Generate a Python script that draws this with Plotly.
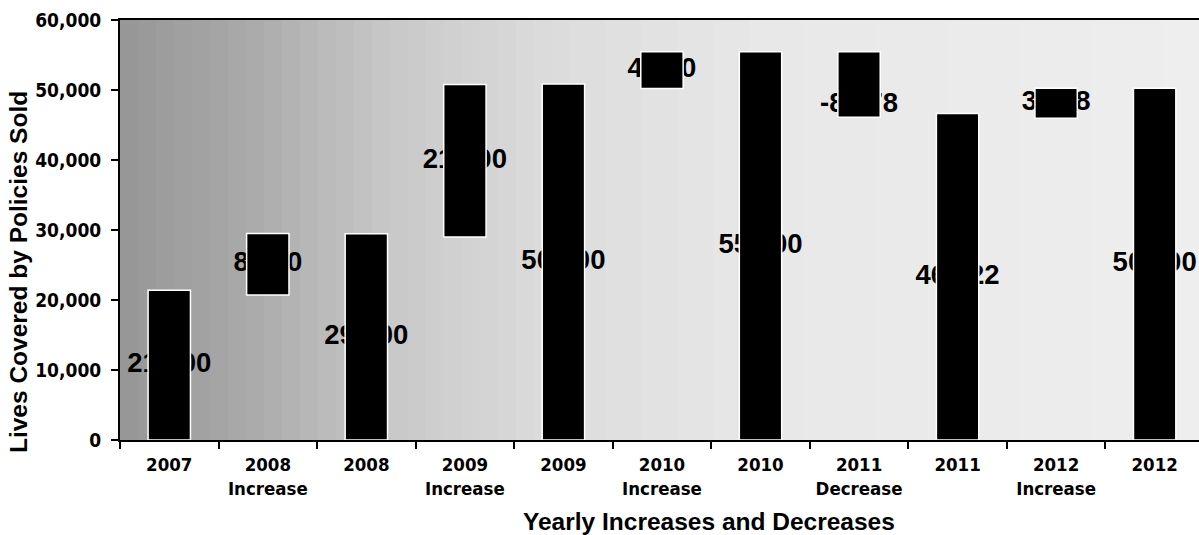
import plotly.graph_objects as go

# ---- data ----
categories = ["2007", "2008<br>Increase", "2008", "2009<br>Increase", "2009",
              "2010<br>Increase", "2010", "2011<br>Decrease", "2011",
              "2012<br>Increase", "2012"]
bar_base = [0, 20700, 0, 29000, 0, 50200, 0, 46100, 0, 45950, 0]
bar_top = [21400, 29500, 29450, 50800, 50850, 55450, 55450, 55450, 46650, 50250, 50250]
labels = ["21,400", "8,100", "29,500", "21,300", "50,800", "4,600",
          "55,400", "-8,978", "46,422", "3,578", "50,000"]
y_ticks = [0, 10000, 20000, 30000, 40000, 50000, 60000]

bar_height = [t - b for t, b in zip(bar_top, bar_base)]
label_y = [(t + b) / 2 for t, b in zip(bar_top, bar_base)]
label_y[7] = bar_base[7] + 1750  # decrease label sits low in its bar

COND = "DejaVu Sans Condensed, DejaVu Sans, sans-serif"
XTICK_FONT = dict(family=COND, size=18.5, color="black", weight="bold")
YTICK_FONT = dict(family=COND, size=19, color="black", weight="bold")
TITLE_FONT = dict(family="Liberation Sans, Arial, sans-serif",
                  size=24.5, color="black", weight="bold")

fig = go.Figure()

# value labels (drawn on the base subplot, so the bars cover them)
fig.add_trace(go.Scatter(
    x=categories, y=label_y, text=labels, mode="text",
    textposition="middle center",
    textfont=dict(family="Liberation Sans, Arial, sans-serif", size=27.5,
                  color="black", weight="bold"),
    hoverinfo="skip", showlegend=False, cliponaxis=False,
    xaxis="x", yaxis="y"))

# bars on an overlaying subplot, drawn above the labels
fig.add_trace(go.Bar(
    x=categories, y=bar_height, base=bar_base, width=0.43,
    marker=dict(color="black", line=dict(color="white", width=1.5)),
    showlegend=False, xaxis="x2", yaxis="y2"))

# speckled background approximated by a soft left-to-right gray gradient
stops = [(0.0, 150), (0.12, 170), (0.25, 200), (0.4, 220), (0.6, 232), (1.0, 238)]
n = 60
for i in range(n):
    f0, f1 = i / n, (i + 1) / n
    fm = (f0 + f1) / 2
    for (a, ga), (b, gb) in zip(stops[:-1], stops[1:]):
        if a <= fm <= b:
            g = int(round(ga + (gb - ga) * (fm - a) / (b - a)))
            break
    fig.add_shape(type="rect", xref="x domain", yref="y domain",
                  x0=f0, x1=f1 + 0.001, y0=0, y1=1, layer="below",
                  line=dict(width=0), fillcolor=f"rgb({g},{g},{g})")

xrange = [-0.5, 10.45]
fig.update_layout(
    width=1199, height=535,
    margin=dict(l=120, r=0, t=20, b=95),
    paper_bgcolor="white", plot_bgcolor="white",
    xaxis=dict(type="category", range=xrange, tickson="boundaries",
               ticks="outside", ticklen=7, tickwidth=1.5, tickcolor="black",
               ticklabelstandoff=7,
               showline=True, linecolor="black", linewidth=2, mirror=True,
               showgrid=False, tickfont=XTICK_FONT, fixedrange=True),
    yaxis=dict(range=[0, 60000], tickvals=y_ticks, tickformat=",",
               ticks="outside", ticklen=7, tickwidth=1.5, tickcolor="black",
               ticklabelstandoff=6,
               showline=True, linecolor="black", linewidth=2,
               showgrid=False, zeroline=False, tickfont=YTICK_FONT),
    xaxis2=dict(type="category", overlaying="x", matches="x", range=xrange,
                visible=False),
    yaxis2=dict(overlaying="y", matches="y", range=[0, 60000], visible=False),
    annotations=[
        dict(text="Yearly Increases and Decreases", xref="paper", yref="paper",
             x=0.546, y=-0.195, xanchor="center", yanchor="middle",
             showarrow=False, font=TITLE_FONT),
        dict(text="Lives Covered by Policies Sold", xref="paper", yref="paper",
             x=-0.0945, y=0.40, xanchor="center", yanchor="middle",
             textangle=-90, showarrow=False, font=TITLE_FONT),
    ],
)

fig.write_html("out.html")
